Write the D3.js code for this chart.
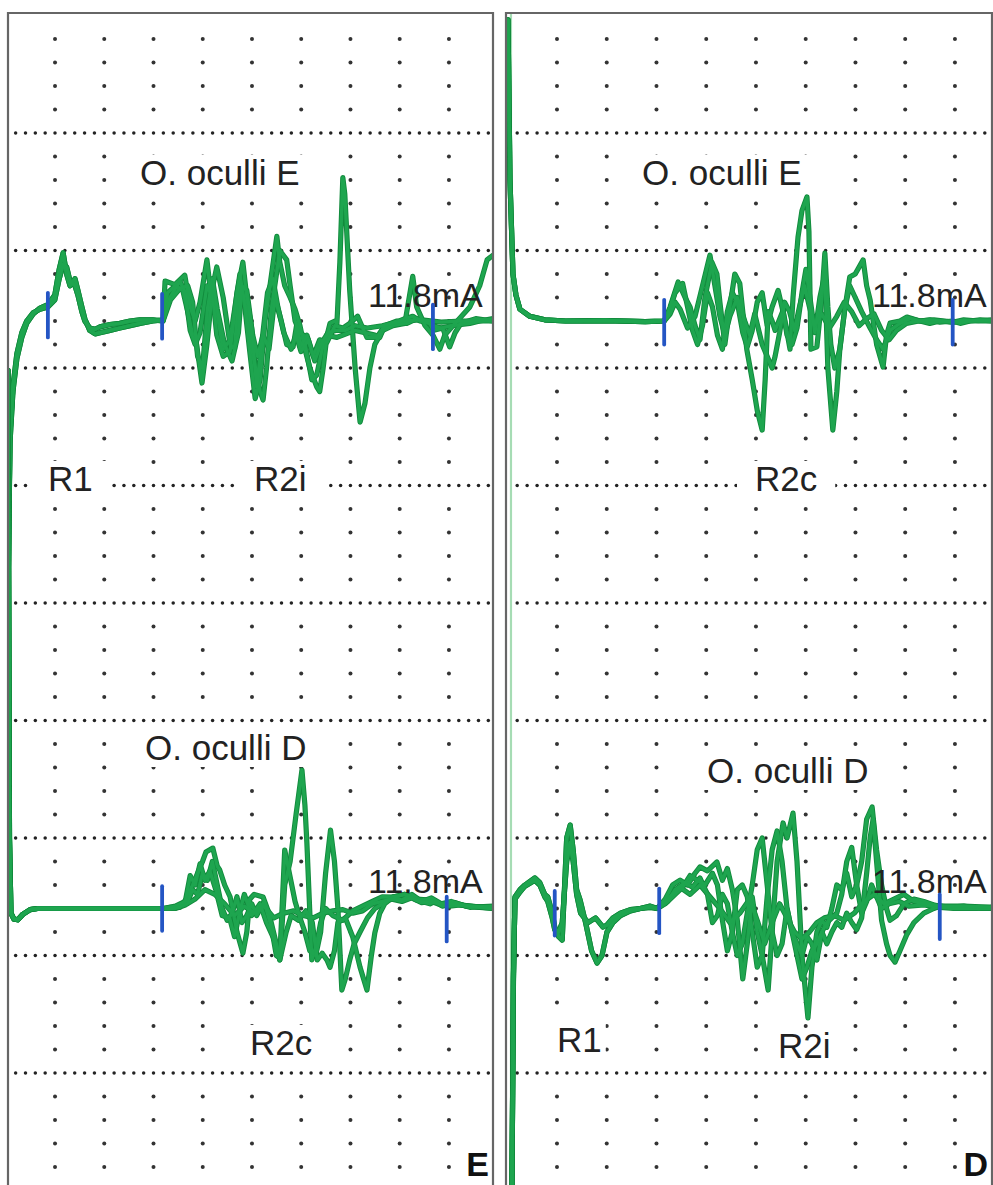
<!DOCTYPE html>
<html><head><meta charset="utf-8">
<script src="https://cdn.jsdelivr.net/npm/d3@7"></script>
<style>html,body{margin:0;padding:0;background:#fff;} svg{display:block;}</style>
</head><body><svg id="chart" width="993" height="1185"></svg>
<script>
// ---------- DATA (time in ms from stimulus, amplitude in µV) ----------
const panelNames = ["E", "D"];
const muscleLabels = ["O. oculli E", "O. oculli D"];
const intensityLabel = "11.8mA";

// Left panel (E), top row: O. oculli E — R1 + R2i
const tlLeadA = [[0,-1190],[0.4,-520],[1.0,-300],[1.8,-160],[2.8,-70],[3.8,-10],[5.1,30],[6.5,55],[8.1,70],[9.5,110],[10.4,220],[11.2,290],[11.9,200],[12.6,150],[13.6,180],[14.2,130],[15.0,60],[15.6,10],[16.6,-40],[17.7,-55],[18.7,-50],[20.7,-40],[22.7,-30],[24.8,-20],[26.8,-10],[29.4,0],[31.5,5]];
const tlLeadB = [[0,-1190],[0.4,-480],[1.0,-280],[1.8,-140],[2.8,-50],[3.8,0],[5.1,35],[6.5,50],[8.1,60],[9.5,90],[10.4,180],[11.2,240],[11.9,230],[12.6,170],[13.6,150],[14.2,110],[15.0,40],[15.6,0],[16.6,-30],[17.7,-35],[18.7,-25],[20.7,-15],[22.7,-10],[24.8,0],[26.8,5],[29.4,5],[31.5,0]];
const tlR2A = [[31.9,170],[33.9,155],[35.9,195],[37.0,60],[38.0,0],[39.0,80],[40.4,260],[41.0,150],[42.4,40],[43.7,-120],[45.1,-80],[47.1,200],[48.1,60],[49.1,-130],[50.2,-330],[51.2,-250],[52.2,0],[53.2,150],[54.6,360],[55.2,250],[56.2,150],[57.3,100],[58.3,50],[59.3,-20],[60.3,-120],[61.3,-200],[62.7,-280],[63.3,-300],[64.0,-200],[64.8,-60],[65.4,-10],[66.4,0],[66.8,-10],[67.4,250],[68.0,610],[68.4,540],[69.4,130],[70.5,-200],[71.5,-430],[72.5,-350],[73.5,-200],[74.5,-100],[76.1,-40],[78.2,-10],[80.6,10],[82.2,20],[83.7,0],[85.7,-10],[86.3,-20],[88,-30],[90,-20],[93.8,-10],[95.8,0],[98.5,10]];
const tlR2B = [[32.4,120],[34,150],[35.5,130],[36.5,40],[37.5,-60],[38.3,-100],[39.4,-264],[40.4,-100],[41.6,150],[42.4,230],[43.7,100],[45.1,-100],[46,-120],[47.1,170],[48.1,80],[49.7,-140],[51.2,-300],[51.8,-336],[52.5,-200],[53.5,50],[55.2,300],[56.6,260],[57.3,150],[58.3,0],[59.3,-50],[60,-60],[61.7,-250],[62.7,-230],[64,-100],[64.8,-60],[66.8,-70],[68,-60],[70.5,-40],[72.5,-50],[74.5,-60],[75.5,-70],[76.1,-40],[78.2,-20],[80.6,-10],[82.2,190],[83.0,60],[84.7,-20],[86.3,-60],[87.7,-120],[88.7,-60],[90.8,-10],[93.8,60],[95.8,150],[97.3,260],[98.5,280]];
const tlR2C = [[32.9,100],[34.9,170],[36,120],[37.0,-40],[38.0,-100],[39.0,-50],[40.4,150],[41.6,100],[42.4,-60],[43.7,-150],[45.1,-130],[46.5,120],[47.7,250],[48.5,100],[49.7,-60],[50.7,-150],[51.8,-60],[53,-120],[54.2,100],[55.5,0],[56.6,-100],[57.9,-110],[58.6,-20],[59.7,-120],[60.7,-60],[62.0,-150],[63.3,-80],[64.8,-90],[66.4,-20],[68,-30],[69.4,-10],[71,20],[72.9,-70],[74.9,-70],[76.5,-20],[79,0],[81,-10],[83,10],[85.7,-10],[86.3,-40],[88.3,-30],[89.7,-110],[90.8,-50],[92,-10],[95,10],[98.5,0]];
const tlR2D = [[33,90],[35,140],[36.5,150],[37.5,80],[38.5,-150],[39.5,-200],[40.5,50],[41.5,180],[42.5,50],[44,-100],[45.5,-170],[46.8,-50],[47.5,150],[48.5,130],[49.5,-30],[50.5,-280],[51.5,-100],[52.7,120],[53.8,180],[54.8,60],[56,-50],[57.5,-120],[58.5,-60],[59.5,-130],[61,-80],[62.3,-170],[63.5,-100],[65,-50],[66.5,-40],[68.5,-40],[70.5,-20],[73,-30],[76,-20],[80,0],[84,5],[88,-5],[92,0],[98.5,0]];

// Right panel (D), top row: O. oculli E — R2c
const trLead = [[0.4,1281],[0.8,600],[1.4,200],[2.0,110],[2.8,50],[4.8,20],[7.8,5],[12,0],[20,2],[28,-3],[31.8,0]];
const trR2A = [[33.0,60],[34.6,166],[36.0,100],[37.0,60],[38.0,-20],[39.0,-80],[40.0,100],[41.4,250],[42.4,200],[43.0,80],[44.0,-100],[45.0,60],[46.0,200],[47.0,160],[48.4,-120],[49.5,-250],[50.5,-380],[51.5,-464],[52.1,-250],[52.7,40],[53.5,0],[54.1,-40],[55.7,45],[57.1,-120],[57.7,100],[58.7,357],[59.5,470],[60.5,528],[60.9,380],[61.3,-120],[62.5,-110],[63.5,100],[64.1,289],[64.7,60],[65.3,-100],[66.1,-200],[67.1,-120],[68.1,50],[69.1,150],[70.2,100],[71.5,40],[73.2,-30],[74.5,-80],[75.8,-120],[77.2,-40],[79.2,-10],[81.2,10],[83.2,0],[85.2,-10],[87.2,0],[89.8,-5],[92,5],[95,0],[97.7,0]];
const trR2B = [[32.8,40],[34,120],[35.5,160],[36.5,60],[37.5,-40],[38.5,-100],[39.5,-20],[40.5,120],[41.5,60],[42.5,-60],[43.5,-120],[44.5,40],[45.5,120],[46.5,80],[47.6,-50],[48.5,-110],[49.5,-40],[50.5,80],[51.5,120],[52.5,-20],[53.5,60],[54.7,130],[55.7,40],[56.5,-60],[57.5,-100],[58.5,-30],[59.5,120],[60.3,220],[61.1,100],[62.1,-50],[63.1,100],[64.1,200],[64.7,-200],[65.7,-464],[66.5,-300],[67.1,-123],[68.1,50],[69.1,187],[70.2,200],[71.8,260],[72.5,150],[73.2,90],[74.5,-100],[75.8,-196],[76.5,-60],[77.2,-9],[79.2,0],[80.6,17],[83.2,0],[85.2,5],[87.2,-5],[89.8,0],[91.3,-10],[93.3,0],[95.3,5],[97.7,0]];
const trR2C = [[33,30],[34,80],[35,50],[36.5,-30],[38,20],[39.5,150],[41,280],[42,150],[43,20],[44,-60],[45,20],[46.5,100],[48,0],[49,-60],[50,30],[51.5,-100],[52.5,-150],[53.5,-200],[54.1,-150],[55,-50],[56,80],[57,40],[58,-40],[59,60],[60,150],[61,60],[62,-20],[63.5,30],[65,-30],[66.5,20],[68,80],[69.5,40],[71,-20],[72.5,10],[74,30],[75.5,-40],[77,-80],[78.5,-40],[80.5,-10],[83,0],[86,5],[89.8,-5],[93,0],[97.7,5]];

// Left panel (E), bottom row: O. oculli D — R2c
const blLead = [[0,2290],[0.3,300],[0.6,-20],[1.2,-45],[2.0,-48],[3.0,-25],[4.5,-5],[6,0],[15,0],[25,0],[31.5,0]];
const blR2A = [[33,5],[34.9,5],[36.2,40],[37.5,100],[38.5,150],[39.5,200],[40.2,240],[41.6,257],[42.5,180],[43,164],[44,100],[45.1,50],[46.5,-100],[47.7,-190],[48.5,-100],[49.1,40],[50,60],[51.8,49],[53,-20],[54.5,-150],[55.2,-219],[56.2,100],[57.3,200],[58.5,400],[59.7,589],[60.3,440],[60.7,279],[61.7,-219],[62.7,-150],[63.5,-60],[64.5,0],[66,-30],[68,-50],[70,-10],[72,10],[74,30],[76,50],[78.2,49],[80.6,60],[83,40],[85.7,36],[87.7,20],[89.7,10],[91.8,15],[95.8,5],[98.5,0]];
const blR2B = [[33,0],[35,10],[36.5,30],[37.5,80],[38.5,60],[39.5,150],[40.5,120],[41.5,200],[42.5,100],[43.5,0],[44.5,-50],[45.5,-20],[46.5,50],[47.5,-60],[48.5,-30],[49.5,20],[50.5,-30],[52,30],[53.5,-80],[54.5,-200],[55.2,-210],[56.2,249],[57.3,134],[58.3,30],[59.3,-40],[60.3,-100],[61.3,-180],[62.5,-200],[63.5,-100],[64.5,150],[65.5,334],[66.3,200],[67,0],[67.8,-347],[68.5,-300],[69.4,-219],[70.3,-150],[71.5,-100],[73,-40],[74.5,0],[76.1,20],[78.2,49],[80,36],[82,60],[84,30],[86,45],[88,20],[90,30],[93,10],[98.5,5]];
const blR2C = [[34,10],[36,30],[37,140],[38,100],[39,190],[40,120],[41,160],[42.2,80],[43.5,-30],[45,-40],[46,-120],[47,-20],[48,60],[49.5,-30],[51.2,20],[52.5,-60],[54,-130],[55.2,-219],[56.5,-100],[57.5,-30],[59,-50],[60.5,-10],[61.8,-60],[62.8,-219],[63.8,-190],[64.8,-220],[65.4,-250],[66.3,-180],[67.0,-60],[68.5,-40],[70.0,-120],[71.5,-250],[72.9,-347],[73.8,-200],[74.5,-104],[75.5,-20],[76.5,20],[78.2,49],[80.6,60],[83,36],[85.7,20],[86.7,30],[88.2,10],[90.8,25],[93.8,5],[98.5,10]];
const blR2D = [[34,0],[36,15],[38,40],[40,80],[42,60],[44,20],[46,-30],[48,10],[50,-20],[52,10],[54,-40],[56,-20],[58,-10],[60,-30],[62,-40],[64,-20],[66,-10],[68,-5],[70,-20],[72,-10],[74,20],[76,30],[78,40],[80,30],[82,45],[84,25],[86,30],[88,15],[90,20],[94,10],[98.5,0]];

// Right panel (D), bottom row: O. oculli D — R1 + R2i
const brLeadA = [[1.2,-1180],[1.5,-300],[1.8,49],[2.8,80],[3.8,100],[5.8,130],[6.8,110],[7.8,60],[8.4,49],[9.3,-20],[9.8,-79],[10.6,-120],[11.3,-134],[12.2,300],[12.9,355],[13.5,250],[14.2,80],[14.9,36],[16,-60],[17.2,-180],[18.3,-232],[19.3,-200],[20.3,-100],[21.5,-60],[23,-30],[25,-10],[27,0],[29,10],[30.4,0]];
const brLeadB = [[1.2,-1180],[1.5,-280],[1.8,40],[2.8,70],[3.8,95],[5.8,120],[6.8,100],[7.8,50],[8.4,30],[9.3,-40],[9.8,-90],[10.6,-100],[11.3,-60],[12.2,200],[12.9,280],[13.5,200],[14.2,60],[15,-20],[16.5,-60],[18,-40],[19.5,-79],[20.3,-70],[21.5,-40],[23,-20],[25,-5],[27,0],[29,5],[30.4,0]];
const brR2A = [[32,40],[33.5,100],[35,121],[36.5,100],[38,150],[39,177],[40.5,160],[42.4,198],[43.5,120],[44.5,170],[45.5,80],[46.5,-50],[47.6,-300],[48.5,-150],[49.5,50],[50.5,-100],[51.5,-200],[52.7,-347],[53.5,-100],[54.5,200],[55.7,364],[56.5,300],[57.7,406],[58.5,200],[59.5,-200],[60.7,-466],[61.5,-250],[62.5,-100],[63.5,-50],[64.5,-80],[65.5,0],[66.5,100],[67.5,80],[68.5,150],[69.5,50],[70.5,100],[71.5,200],[72.5,380],[73.6,432],[74.5,250],[75.5,100],[76.5,0],[77.2,-50],[78.5,-30],[80,20],[82,40],[84,30],[86,15],[87.2,10],[89,5],[92,10],[95,0],[97.7,5]];
const brR2B = [[32,20],[34,60],[35.5,90],[37,140],[38.5,120],[40,100],[41.5,150],[42.5,100],[43.5,-50],[44.5,-180],[45.5,-100],[46.5,80],[47.5,100],[48.5,50],[49.5,-100],[50.5,-250],[51.5,-200],[52.5,50],[53.5,250],[54.5,330],[55.5,200],[56.5,0],[57.5,-100],[58.5,-150],[59.5,-200],[60.5,-120],[61.5,-150],[62.5,-219],[63.5,-100],[64.5,-60],[65.5,-40],[66.5,-20],[67.5,60],[68.5,200],[69.5,260],[70.5,100],[71.5,-20],[72.5,30],[73.5,100],[74.5,50],[75.5,0],[77,20],[79,30],[81,10],[84,15],[87.2,5],[90,0],[97.7,0]];
const brR2C = [[32.5,30],[34,80],[36,110],[37.5,90],[39,130],[40.5,60],[41.5,-60],[42.5,-30],[43.5,60],[44.5,20],[45.5,-100],[46.5,-200],[47.5,-150],[48.5,-20],[49.5,100],[50.5,250],[51.5,300],[52.5,100],[53.5,-100],[54.5,-200],[55.5,-150],[56.5,0],[57.5,-100],[58.5,-200],[59.5,-300],[60.5,-250],[61.5,-180],[62.5,-150],[63.5,-100],[64.5,-150],[65.5,-100],[66.5,-60],[67.5,-80],[68.5,-20],[69.5,-60],[70.5,-90],[71.5,-40],[72.5,150],[73.2,300],[73.8,380],[74.5,200],[75.5,-50],[76.5,-150],[77.2,-200],[78.2,-228],[79.2,-180],[80.6,-110],[82,-60],[84,-20],[86,0],[87.2,10],[90,5],[97.7,5]];
const brR2D = [[33,50],[35,90],[37,60],[39,100],[41,50],[43,0],[45,-60],[47,-20],[49,40],[50.5,-50],[52,-150],[53.5,-60],[55,20],[56.5,-40],[58,-100],[59.5,-130],[61,-100],[62.5,-60],[64,-40],[66,-30],[68,-50],[70,-20],[72,30],[74,60],[76,20],[78,40],[80,60],[82,30],[84,20],[87.2,10],[92,10],[97.7,5]];

// Latency cursors: [time ms, level µV]
const tlMarkers = [[8.1,25],[31.3,20],[86.3,-25]];
const trMarkers = [[31.8,-5],[89.8,-5]];
const blMarkers = [[31.3,0],[89.1,-45]];
const brMarkers = [[9.8,-20],[30.8,-10],[87.2,-35]];

// Response labels
const tlLabels = ["R1", "R2i"];
const trLabels = ["R2c"];
const blLabels = ["R2c"];
const brLabels = ["R1", "R2i"];

// stimulus artefact line (right panel), ms
const stimulusLine = 1.0;

// ---------- LAYOUT ----------
const svg = d3.select("#chart");
const panels = [
  {x0: 8, x1: 493, tMax: 98.5, colStart: 9.55},
  {x0: 506, x1: 992, tMax: 97.7, colStart: 10.25}
];
const rows = {top: 321, bottom: 908.5};
const pxPerUv = 0.235;
const gridY = d3.scaleLinear().domain([0, 1]).range([133, 250.5]); // 1 division
panels.forEach(p => {
  p.x = d3.scaleLinear().domain([0, p.tMax]).range([p.x0, p.x1]);
});
function yScale(row) {
  const y0 = rows[row];
  return d3.scaleLinear().domain([-500, 500]).range([y0 + 500*pxPerUv, y0 - 500*pxPerUv]);
}

const traces = [
  {panel: 0, row: "top", sweeps: [tlLeadA.concat(tlR2A), tlLeadB.concat(tlR2B), tlLeadA.concat(tlR2C), tlLeadB.concat(tlR2D)], markers: tlMarkers},
  {panel: 1, row: "top", sweeps: [trLead.concat(trR2A), trLead.concat(trR2B), trLead.concat(trR2C)], markers: trMarkers},
  {panel: 0, row: "bottom", sweeps: [blLead.concat(blR2A), blLead.concat(blR2B), blLead.concat(blR2C), blLead.concat(blR2D)], markers: blMarkers},
  {panel: 1, row: "bottom", sweeps: [brLeadA.concat(brR2A), brLeadB.concat(brR2B), brLeadA.concat(brR2C), brLeadB.concat(brR2D)], markers: brMarkers}
];

const textLabels = [
  {panel: 0, text: muscleLabels[0], x: 140, y: 185, pad: 10},
  {panel: 1, text: muscleLabels[0], x: 642, y: 185, pad: 10},
  {panel: 0, text: muscleLabels[1], x: 145, y: 760, pad: 10},
  {panel: 1, text: muscleLabels[1], x: 707, y: 783, pad: 10},
  {panel: 0, text: tlLabels[0], x: 48, y: 491, pad: 18},
  {panel: 0, text: tlLabels[1], x: 254, y: 491, pad: 18},
  {panel: 1, text: trLabels[0], x: 755, y: 491, pad: 18},
  {panel: 0, text: blLabels[0], x: 250, y: 1055, pad: 6},
  {panel: 1, text: brLabels[0], x: 557, y: 1052, pad: 4},
  {panel: 1, text: brLabels[1], x: 778, y: 1058, pad: 6}
];
const ampLabels = [
  {x: 368, y: 307}, {x: 872, y: 307}, {x: 368, y: 893}, {x: 872, y: 893}
];

const FONT = "'Liberation Sans', Arial, Helvetica, sans-serif";

// ---------- GRID ----------
const gGrid = svg.append("g");
panels.forEach((p, pi) => {
  const cols = d3.range(9).map(i => p.colStart + 10 * i);
  const clipId = "clip" + pi;
  svg.append("clipPath").attr("id", clipId).append("rect")
    .attr("x", p.x0).attr("y", 13).attr("width", p.x1 - p.x0).attr("height", 1185);
  const g = gGrid.append("g").attr("clip-path", `url(#${clipId})`);
  const colDots = [];
  cols.forEach(t => {
    d3.range(-4, 46).forEach(k => {
      if (k % 5 !== 0) colDots.push([t, k / 5]);
    });
  });
  g.selectAll("circle.c").data(colDots).join("circle").attr("class", "c")
    .attr("cx", d => p.x(d[0])).attr("cy", d => gridY(d[1]))
    .attr("r", 2.0).attr("fill", "#333");
  const lineDots = [];
  d3.range(0, 9).forEach(k => {
    d3.range(-5, 46).forEach(j => {
      const t = p.colStart + 2 * j;
      const xx = p.x(t);
      if (xx > p.x0 + 4 && xx < p.x1 - 2) lineDots.push([t, k]);
    });
  });
  g.selectAll("circle.l").data(lineDots).join("circle").attr("class", "l")
    .attr("cx", d => p.x(d[0])).attr("cy", d => gridY(d[1]))
    .attr("r", 1.75).attr("fill", "#222");
});

// ---------- LABEL BOXES + TEXT ----------
const gLab = svg.append("g");
textLabels.forEach(l => {
  const t = gLab.append("text").attr("x", l.x).attr("y", l.y)
    .attr("font-family", FONT).attr("font-size", 35).attr("fill", "#222").text(l.text);
  const bb = t.node().getBBox();
  gLab.insert("rect", "text").attr("x", bb.x - l.pad).attr("y", bb.y + 2)
    .attr("width", bb.width + 2 * l.pad).attr("height", bb.height - 2).attr("fill", "#fff");
});

// ---------- STIMULUS LINE ----------
svg.append("line")
  .attr("x1", panels[1].x(stimulusLine)).attr("x2", panels[1].x(stimulusLine))
  .attr("y1", 14).attr("y2", 1185).attr("stroke", "#a6dcb4").attr("stroke-width", 2.2);

// ---------- TRACES ----------
const gTr = svg.append("g");
traces.forEach(tr => {
  const p = panels[tr.panel];
  const y = yScale(tr.row);
  const line = d3.line().x(d => p.x(d[0])).y(d => y(d[1])).curve(d3.curveLinear);
  const g = gTr.append("g").attr("clip-path", `url(#clip${tr.panel})`);
  g.selectAll("path.edge").data(tr.sweeps).join("path").attr("class", "edge")
    .attr("d", line).attr("fill", "none")
    .attr("stroke", "#118a3c").attr("stroke-width", 5.2)
    .attr("stroke-linejoin", "round").attr("stroke-linecap", "round");
  g.selectAll("path.core").data(tr.sweeps).join("path").attr("class", "core")
    .attr("d", line).attr("fill", "none")
    .attr("stroke", "#1ea54f").attr("stroke-width", 3.4)
    .attr("stroke-linejoin", "round").attr("stroke-linecap", "round");
});

// ---------- AMPLITUDE TEXT ----------
ampLabels.forEach(a => {
  svg.append("text").attr("x", a.x).attr("y", a.y)
    .attr("font-family", FONT).attr("font-size", 34).attr("fill", "#222")
    .text(intensityLabel);
});

// ---------- MARKERS ----------
traces.forEach(tr => {
  const p = panels[tr.panel];
  const y = yScale(tr.row);
  svg.append("g").selectAll("line").data(tr.markers).join("line")
    .attr("x1", d => p.x(d[0])).attr("x2", d => p.x(d[0]))
    .attr("y1", d => y(d[1] + 95)).attr("y2", d => y(d[1] - 95))
    .attr("stroke", "#2455c4").attr("stroke-width", 3.8).attr("stroke-linecap", "round");
});

// ---------- PANEL BORDERS ----------
panels.forEach(p => {
  svg.append("path")
    .attr("d", `M${p.x0},1190 V13 H${p.x1} V1190`)
    .attr("fill", "none").attr("stroke", "#666").attr("stroke-width", 2.2);
});

// ---------- PANEL LETTERS ----------
panelNames.forEach((n, i) => {
  svg.append("text").attr("x", panels[i].x1 - 4).attr("y", 1176)
    .attr("text-anchor", "end").attr("font-family", FONT).attr("font-weight", "bold")
    .attr("font-size", 34).attr("fill", "#111").text(n);
});
</script>
</body></html>
